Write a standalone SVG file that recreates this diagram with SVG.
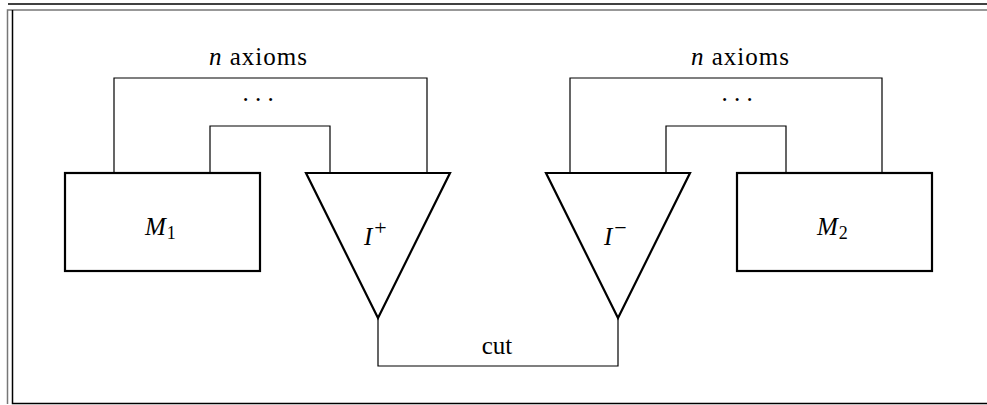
<svg xmlns="http://www.w3.org/2000/svg" width="987" height="405" viewBox="0 0 987 405">
<style>
.node{fill:#fff;stroke:#000;stroke-width:2.2}
.conn{fill:none;stroke:#000;stroke-width:1.2}
.t{font-family:"Liberation Serif","DejaVu Serif",serif;font-size:25px;fill:#000}
.i{font-style:italic}
.frame{fill:none;stroke-width:1.5}
</style>
<rect x="0" y="0" width="987" height="405" fill="#fff"/>
<g id="frame">
<line class="frame" x1="8" y1="4" x2="987" y2="4" stroke="#000"/>
<polyline class="frame" points="7.5,404 7.5,10 987,10" stroke="#777"/>
<polyline class="frame" points="12.5,10 12.5,403.5 987,403.5" stroke="#000"/>
</g>
<g id="connectors">
<polyline class="conn" points="114,173 114,78 427,78 427,173"/>
<polyline class="conn" points="210,173 210,126 330,126 330,173"/>
<polyline class="conn" points="570,173 570,78 882,78 882,173"/>
<polyline class="conn" points="666,173 666,126 786,126 786,173"/>
<polyline class="conn" points="378,318 378,366 618,366 618,318"/>
</g>
<g id="labels">
<text class="t" x="258" y="65" text-anchor="middle" textLength="98"><tspan class="i">n</tspan> axioms</text>
<text class="t" x="258" y="101" text-anchor="middle">. . .</text>
<text class="t" x="740" y="65" text-anchor="middle" textLength="98"><tspan class="i">n</tspan> axioms</text>
<text class="t" x="737" y="101" text-anchor="middle">. . .</text>
<text class="t" x="497" y="354" text-anchor="middle">cut</text>
</g>
<g id="M1">
<rect class="node" x="65" y="173" width="195" height="98"/>
<text class="t" x="145" y="235"><tspan class="i">M</tspan><tspan font-size="18" dx="1" dy="4">1</tspan></text>
</g>
<g id="Iplus">
<polygon class="node" points="306,173 450,173 378,318"/>
<text class="t" x="364" y="245"><tspan class="i">I</tspan><tspan font-size="22" dx="2" dy="-10">+</tspan></text>
</g>
<g id="Iminus">
<polygon class="node" points="546,173 690,173 618,318"/>
<text class="t" x="604" y="245"><tspan class="i">I</tspan><tspan font-size="22" dx="2" dy="-10">−</tspan></text>
</g>
<g id="M2">
<rect class="node" x="737" y="173" width="195" height="98"/>
<text class="t" x="817" y="235"><tspan class="i">M</tspan><tspan font-size="18" dx="1" dy="4">2</tspan></text>
</g>
</svg>
